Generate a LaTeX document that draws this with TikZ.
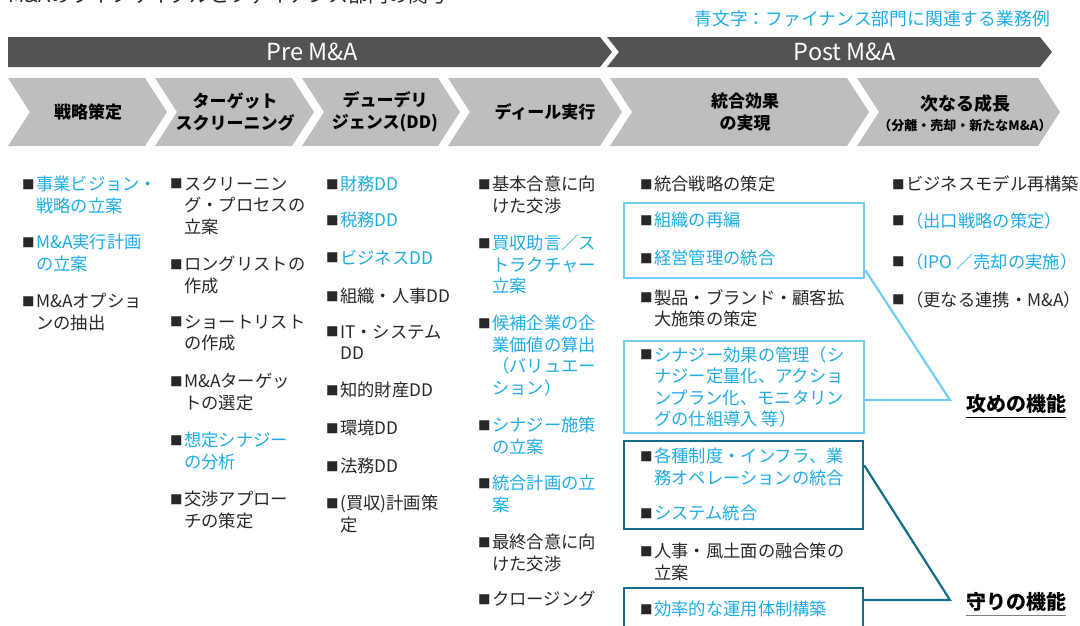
\documentclass[tikz,border=0pt]{standalone}
\usepackage{fontspec}
\setmainfont{Noto Sans CJK JP}
\usetikzlibrary{calc}
\definecolor{mablue}{RGB}{30,172,228}
\definecolor{boxlight}{RGB}{112,204,240}
\definecolor{boxteal}{RGB}{20,110,138}
\definecolor{band}{RGB}{82,83,85}
\definecolor{chevgray}{RGB}{189,190,192}
\definecolor{txt}{RGB}{40,40,40}
\newcommand\bsq{{\color{txt}\fontsize{12.5}{12}\selectfont\raisebox{1.5pt}{■}}\hspace{1.5pt}}
\newcommand\ind{\hphantom{\bsq}}
\newcommand\stt{\rule{0pt}{14pt}}
\tikzset{
  itm/.style={anchor=north west, inner sep=0pt, align=left, font=\fontsize{17.3}{21.5}\selectfont, text=txt},
  bl/.style={itm, text=mablue},
  chevlbl/.style={align=center, font=\bfseries\fontsize{17}{22}\selectfont, text=black, inner sep=0pt},
  bandlbl/.style={text=white, font=\fontsize{23.5}{24}\selectfont, inner sep=0pt},
  chevshape/.style={fill=chevgray},
  bandshape/.style={fill=band},
  lbox/.style={draw=boxlight, line width=2.2pt, anchor=north west, inner sep=0pt},
  tbox/.style={draw=boxteal, line width=2.2pt, anchor=north west, inner sep=0pt},
  funclbl/.style={font=\bfseries\fontsize{20}{20}\selectfont, text=black, inner sep=0pt},
}
\begin{document}
\begin{tikzpicture}[x=1pt,y=-1pt]
\useasboundingbox (0,0) rectangle (1080,625);
\begin{scope}
\clip (0,0) rectangle (1080,625);
% clipped title
\node[anchor=base west, inner sep=0pt, font=\fontsize{20}{20}\selectfont, text=txt] (title) at (8,2.5) {M\&Aのライフサイクルとファイナンス部門の関与};
% legend
\node[anchor=east, inner sep=0pt, font=\fontsize{17.8}{18}\selectfont, text=mablue] (legend) at (1050,19) {青文字：ファイナンス部門に関連する業務例};
% bands
\fill[bandshape] (8,37) -- (600,37) -- (612,52) -- (600,67) -- (8,67) -- cycle;
\fill[bandshape] (607,37) -- (1040,37) -- (1052,52) -- (1040,67) -- (607,67) -- (619,52) -- cycle;
\node[bandlbl] (pre) at (312,52) {Pre M\&A};
\node[bandlbl] (post) at (845,52) {Post M\&A};
% chevrons
\foreach \a/\b in {8/145,155/292,302/438,448/600,610/847,857/1038}{
  \fill[chevshape] (\a,78) -- (\b,78) -- (\b+22,112) -- (\b,146) -- (\a,146) -- (\a+22,112) -- cycle;
}
\node[chevlbl] (p1) at (88,112) {戦略策定};
\node[chevlbl] (p2) at (235,112) {ターゲット\\スクリーニング};
\node[chevlbl] (p3) at (385,112) {デューデリ\\ジェンス(DD)};
\node[chevlbl] (p4) at (545,112) {ディール実行};
\node[chevlbl] (p5) at (745,112) {統合効果\\の実現};
\node[chevlbl, align=center] (p6) at (965,113) {{\fontsize{18}{22}\selectfont 次なる成長}\\[-2pt]{\fontsize{13}{14}\selectfont （分離・売却・新たなM\&A）}};
% column 1
\node[bl] (a1) at (22,176) {\stt\bsq 事業ビジョン・\\\ind 戦略の立案};
\node[bl] (a2) at (22,234) {\stt\bsq M\&A実行計画\\\ind の立案};
\node[itm] (a3) at (22,293) {\stt\bsq M\&Aオプショ\\\ind ンの抽出};
% column 2
\node[itm] (b1) at (170,176) {\stt\bsq スクリーニン\\\ind グ・プロセスの\\\ind 立案};
\node[itm] (b2) at (170,256) {\stt\bsq ロングリストの\\\ind 作成};
\node[itm] (b3) at (170,314) {\stt\bsq ショートリスト\\\ind の作成};
\node[itm] (b4) at (170,373) {\stt\bsq M\&Aターゲッ\\\ind トの選定};
\node[bl] (b5) at (170,432) {\stt\bsq 想定シナジー\\\ind の分析};
\node[itm] (b6) at (170,491) {\stt\bsq 交渉アプロー\\\ind チの策定};
% column 3
\node[bl] (c1) at (326,176) {\stt\bsq 財務DD};
\node[bl] (c2) at (326,212) {\stt\bsq 税務DD};
\node[bl] (c3) at (326,250) {\stt\bsq ビジネスDD};
\node[itm] (c4) at (326,288) {\stt\bsq 組織・人事DD};
\node[itm] (c5) at (326,324) {\stt\bsq IT・システム\\\ind DD};
\node[itm] (c6) at (326,382) {\stt\bsq 知的財産DD};
\node[itm] (c7) at (326,420) {\stt\bsq 環境DD};
\node[itm] (c8) at (326,458) {\stt\bsq 法務DD};
\node[itm] (c9) at (326,495) {\stt\bsq (買収)計画策\\\ind 定};
% column 4
\node[itm] (d1) at (478,176) {\stt\bsq 基本合意に向\\\ind けた交渉};
\node[bl] (d2) at (478,235) {\stt\bsq 買収助言／ス\\\ind トラクチャー\\\ind 立案};
\node[bl] (d3) at (478,315) {\stt\bsq 候補企業の企\\\ind 業価値の算出\\\ind （バリュエー\\\ind ション）};
\node[bl] (d4) at (478,417) {\stt\bsq シナジー施策\\\ind の立案};
\node[bl] (d5) at (478,475) {\stt\bsq 統合計画の立\\\ind 案};
\node[itm] (d6) at (478,534) {\stt\bsq 最終合意に向\\\ind けた交渉};
\node[itm] (d7) at (478,591) {\stt\bsq クロージング};
% column 5 boxes
\node[lbox, minimum width=240, minimum height=75] (bx1) at (623,202) {};
\node[lbox, minimum width=240, minimum height=92] (bx2) at (623,340) {};
\node[tbox, minimum width=239, minimum height=88] (bx3) at (623,440) {};
\node[tbox, minimum width=239, minimum height=63] (bx4) at (623,587) {};
% column 5
\node[itm] (e1) at (640,176) {\stt\bsq 統合戦略の策定};
\node[bl] (e2) at (640,212) {\stt\bsq 組織の再編};
\node[bl] (e3) at (640,250) {\stt\bsq 経営管理の統合};
\node[itm] (e4) at (640,289) {\stt\bsq 製品・ブランド・顧客拡\\\ind 大施策の策定};
\node[bl] (e5) at (640,346) {\stt\bsq シナジー効果の管理（シ\\\ind ナジー定量化、アクショ\\\ind ンプラン化、モニタリン\\\ind グの仕組導入 等）};
\node[bl] (e6) at (640,448) {\stt\bsq 各種制度・インフラ、業\\\ind 務オペレーションの統合};
\node[bl] (e7) at (640,505) {\stt\bsq システム統合};
\node[itm] (e8) at (640,543) {\stt\bsq 人事・風土面の融合策の\\\ind 立案};
\node[bl] (e9) at (640,601) {\stt\bsq 効率的な運用体制構築};
% column 6
\node[itm] (f1) at (892,176) {\stt\bsq ビジネスモデル再構築};
\node[bl] (f2) at (892,212) {\stt\bsq （出口戦略の策定）};
\node[bl] (f3) at (892,253) {\stt\bsq （IPO ／売却の実施）};
\node[itm] (f4) at (892,291) {\stt\bsq （更なる連携・M\&A）};
% connectors
\coordinate (kA) at (950,400);
\coordinate (kB) at (950,600);
\draw[boxlight, line width=2.2pt] ($(bx1.south east)!0.12!(bx1.north east)$) -- (kA) -- (bx2.east |- kA);
\draw[boxteal, line width=2.2pt] ($(bx3.north east)!0.28!(bx3.south east)$) -- (kB) -- (bx4.east |- kB);
% function labels
\node[funclbl] (kou) at (1016,404) {攻めの機能};
\draw[black, line width=1.3pt] ($(kou.south west)+(0,4)$) -- ($(kou.south east)+(0,4)$);
\node[funclbl] (mam) at (1016,602) {守りの機能};
\draw[gray, line width=1.3pt] ($(mam.south west)+(0,4)$) -- ($(mam.south east)+(0,4)$);
\end{scope}
\end{tikzpicture}
\end{document}
